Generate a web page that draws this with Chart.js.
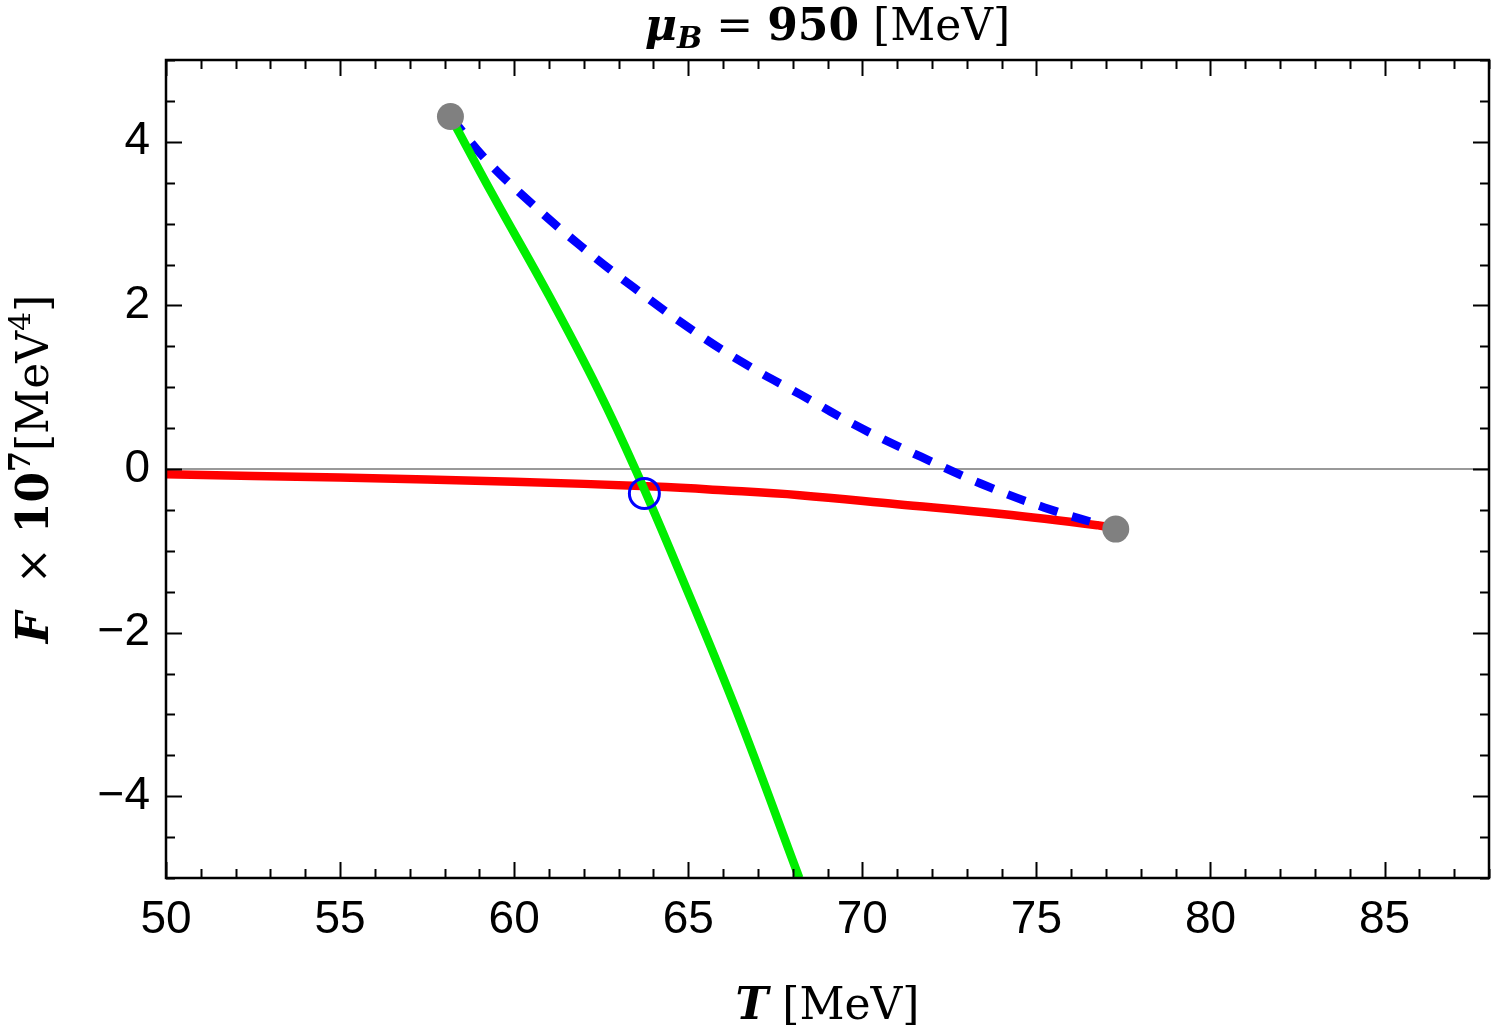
<!DOCTYPE html>
<html>
<head>
<meta charset="utf-8">
<script src="https://cdn.jsdelivr.net/npm/chart.js@4.4.1/dist/chart.umd.min.js"></script>
<style>
  html, body { margin: 0; padding: 0; background: #fff; }
</style>
</head>
<body>
<canvas id="myChart" width="1491" height="1033"></canvas>
<script>
// DATA
var xTicks = [50, 55, 60, 65, 70, 75, 80, 85];
var yTicks = [-4, -2, 0, 2, 4];

// red branch
var redT = [50, 55, 60, 64, 66, 68.2, 71, 74, 76.8, 77.28];
var redF = [-0.065, -0.105, -0.155, -0.215, -0.26, -0.32, -0.43, -0.55, -0.69, -0.725];

// green branch
var greenT = [58.17, 59.4, 61.0, 62.4, 63.51, 64.75, 66.38, 68.19];
var greenF = [4.31, 3.34, 2.12, 0.98, -0.03, -1.26, -2.95, -5.0];

// blue dashed branch
var blueT = [58.17, 59.15, 60.49, 61.93, 63.46, 65.04, 66.61, 68.24, 69.96, 71.68, 73.41, 75.22, 77.28];
var blueF = [4.31, 3.80, 3.25, 2.72, 2.21, 1.72, 1.29, 0.906, 0.50, 0.15, -0.18, -0.47, -0.735];

// end points (gray) and crossing (blue ring)
var endT = [58.17, 77.28];
var endF = [4.31, -0.735];
var crossT = [63.74];
var crossF = [-0.30];

function pts(xs, ys) {
  return xs.map(function (v, i) { return {x: v, y: ys[i]}; });
}

// draw a line of mixed-style text, centred at (cx, cy)
function drawRich(ctx, segs, cx, cy, angle) {
  ctx.save();
  ctx.translate(cx, cy);
  if (angle) ctx.rotate(angle);
  var total = 0;
  segs.forEach(function (s) { ctx.font = s.font; total += ctx.measureText(s.t).width; });
  var x = -total / 2;
  ctx.fillStyle = '#000';
  ctx.textBaseline = 'alphabetic';
  ctx.textAlign = 'left';
  segs.forEach(function (s) {
    ctx.font = s.font;
    ctx.fillText(s.t, x, s.dy || 0);
    x += ctx.measureText(s.t).width;
  });
  ctx.restore();
}

var serif = 'DejaVu Serif';
var labels = {
  id: 'labels',
  afterDraw: function (chart) {
    var ctx = chart.ctx, a = chart.chartArea;
    var cx = (a.left + a.right) / 2;
    // title
    drawRich(ctx, [
      {t: 'μ', font: 'bold italic 44px ' + serif},
      {t: 'B', font: 'bold italic 30px ' + serif, dy: 8},
      {t: ' = ', font: '44px ' + serif},
      {t: '950', font: 'bold 44px ' + serif},
      {t: ' [MeV]', font: '44px ' + serif}
    ], cx, 40);
    // x label
    drawRich(ctx, [
      {t: 'T', font: 'bold italic 44px ' + serif},
      {t: ' [MeV]', font: '44px ' + serif}
    ], cx, 1019);
    // y label
    drawRich(ctx, [
      {t: 'F', font: 'bold italic 44px ' + serif},
      {t: '  × ', font: '44px ' + serif},
      {t: '10', font: 'bold 44px ' + serif},
      {t: '7', font: 'bold 30px ' + serif, dy: -18},
      {t: '[MeV', font: '44px ' + serif},
      {t: '4', font: '30px ' + serif, dy: -18},
      {t: ']', font: '44px ' + serif}
    ], 48, (a.top + a.bottom) / 2, -Math.PI / 2);
  }
};

// frame + inward ticks on all four sides
var frameTicks = {
  id: 'frameTicks',
  afterDatasetsDraw: function (chart) {
    var ctx = chart.ctx, a = chart.chartArea;
    var x = chart.scales.x, y = chart.scales.y;
    ctx.save();
    ctx.strokeStyle = '#000';
    ctx.lineWidth = 2;
    ctx.beginPath();
    for (var v = x.min; v <= x.max + 1e-9; v += 1) {
      var px = Math.round(x.getPixelForValue(v)) + 0.5;
      var len = xTicks.indexOf(v) >= 0 ? 16 : 9;
      ctx.moveTo(px, a.bottom); ctx.lineTo(px, a.bottom - len);
      ctx.moveTo(px, a.top); ctx.lineTo(px, a.top + len);
    }
    for (var w = y.min; w <= y.max + 1e-9; w += 0.5) {
      var py = Math.round(y.getPixelForValue(w)) + 0.5;
      var l2 = yTicks.indexOf(w) >= 0 ? 16 : 9;
      ctx.moveTo(a.left, py); ctx.lineTo(a.left + l2, py);
      ctx.moveTo(a.right, py); ctx.lineTo(a.right - l2, py);
    }
    ctx.stroke();
    ctx.lineWidth = 2.5;
    ctx.strokeRect(a.left, a.top, a.right - a.left, a.bottom - a.top);
    ctx.restore();
  }
};

var ctx = document.getElementById('myChart');
var myChart = new Chart(ctx, {
  type: 'line',
  data: {
    datasets: [
      {
        data: pts(endT, endF),
        showLine: false,
        pointRadius: 13.5,
        pointBackgroundColor: '#808080',
        pointBorderWidth: 0,
        clip: false
      },
      {
        data: pts(crossT, crossF),
        showLine: false,
        pointRadius: 15,
        pointBackgroundColor: 'rgba(0,0,0,0)',
        pointBorderColor: '#0000ff',
        pointBorderWidth: 3
      },
      {
        data: pts(greenT, greenF),
        borderColor: '#00ee00',
        borderWidth: 8.5,
        pointRadius: 0,
        tension: 0.4
      },
      {
        data: pts(blueT, blueF),
        borderColor: '#0000ff',
        borderWidth: 8.5,
        borderDash: [19, 15],
        borderCapStyle: 'butt',
        pointRadius: 0,
        tension: 0.4
      },
      {
        data: pts(redT, redF),
        borderColor: '#ff0000',
        borderWidth: 8.5,
        pointRadius: 0,
        tension: 0.4
      },
      {
        data: [{x: 50, y: 0}, {x: 88, y: 0}],
        borderColor: '#777777',
        borderWidth: 1.5,
        pointRadius: 0
      }
    ]
  },
  options: {
    responsive: false,
    animation: false,
    events: [],
    layout: { autoPadding: false, padding: { top: 60, right: 2, left: 0, bottom: 0 } },
    plugins: { legend: { display: false }, tooltip: { enabled: false } },
    scales: {
      x: {
        type: 'linear',
        min: 50,
        max: 88,
        afterBuildTicks: function (s) { s.ticks = xTicks.map(function (v) { return {value: v}; }); },
        afterFit: function (s) { s.height = 155; s.paddingLeft = 0; s.paddingRight = 0; },
        grid: { display: false, drawTicks: false },
        border: { display: false },
        ticks: {
          padding: 15,
          color: '#000',
          maxRotation: 0,
          autoSkip: false,
          font: { family: 'Liberation Sans', size: 46 }
        }
      },
      y: {
        type: 'linear',
        min: -5,
        max: 5,
        afterBuildTicks: function (s) { s.ticks = yTicks.map(function (v) { return {value: v}; }); },
        afterFit: function (s) { s.width = 166; s.paddingTop = 0; s.paddingBottom = 0; },
        grid: { display: false, drawTicks: false },
        border: { display: false },
        ticks: {
          padding: 16,
          color: '#000',
          autoSkip: false,
          font: { family: 'Liberation Sans', size: 46 },
          callback: function (v) { return String(v).replace('-', '\u2212'); }
        }
      }
    }
  },
  plugins: [frameTicks, labels]
});
</script>
</body>
</html>
